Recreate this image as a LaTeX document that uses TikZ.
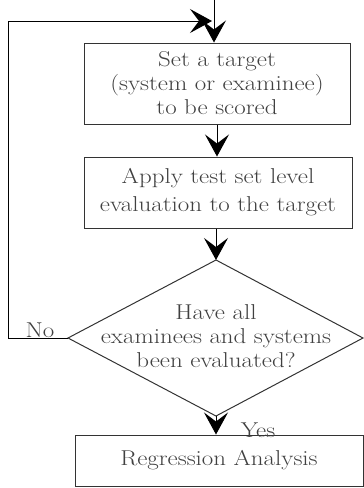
\documentclass[tikz,border=0pt]{standalone}
\usepackage{graphicx}
\usetikzlibrary{shapes.geometric,arrows.meta}
\newcommand{\sx}[1]{\scalebox{1.16}[1]{#1}}
\begin{document}
\begin{tikzpicture}[x=1pt,y=-1pt,
  txt/.style={font=\fontsize{21.5}{24}\selectfont, text=black!75, align=center},
  procbox/.style={txt, draw=black!80, line width=1pt, inner sep=0pt},
  arr/.style={line width=1pt, -{Stealth[length=22pt,width=24pt,inset=9pt]}},
  lbl/.style={font=\fontsize{21.5}{24}\selectfont, text=black!75}]
\useasboundingbox (0,0) rectangle (364,488);
\node[procbox, minimum width=266pt, minimum height=81pt] (b1) at (217,83.5)
  {\sx{Set a target}\\\sx{(system or examinee)}\\\sx{to be scored}};
\node[procbox, minimum width=268pt, minimum height=71pt, font=\fontsize{21.5}{28}\selectfont] (b2) at (218,192.5)
  {\sx{Apply test set level}\\\sx{evaluation to the target}};
\coordinate (dc) at (216,338);
\coordinate (dt) at (216,260);
\coordinate (db) at (216,416);
\coordinate (dl) at (68,338);
\coordinate (dr) at (363,338);
\draw[draw=black!80, line width=1pt] (dt) -- (dr) -- (db) -- (dl) -- cycle;
\node[txt] (d) at (216,336) {\sx{Have all}\\\sx{examinees and systems}\\\sx{been evaluated?}};
\node[procbox, minimum width=288pt, minimum height=51pt] (b3) at (219,460.5)
  {\sx{Regression Analysis}};
\coordinate (top) at (214,0);
\coordinate (c1) at (8,338);
\coordinate (c2) at (8,21);
\coordinate (c3) at (212,21);
\draw[arr] (top) -- (b1.north -| top);
\draw[arr] (b1.south) -- (b2.north -| b1.south);
\draw[arr] (b2.south -| dt) -- (dt);
\draw[arr] (db) -- (b3.north -| db);
\draw[arr] (dl) -- (c1) -- (c2) -- (c3);
\node[lbl] (no) at (40,330) {\sx{No}};
\node[lbl] (yes) at (258,430) {\sx{Yes}};
\end{tikzpicture}
\end{document}
